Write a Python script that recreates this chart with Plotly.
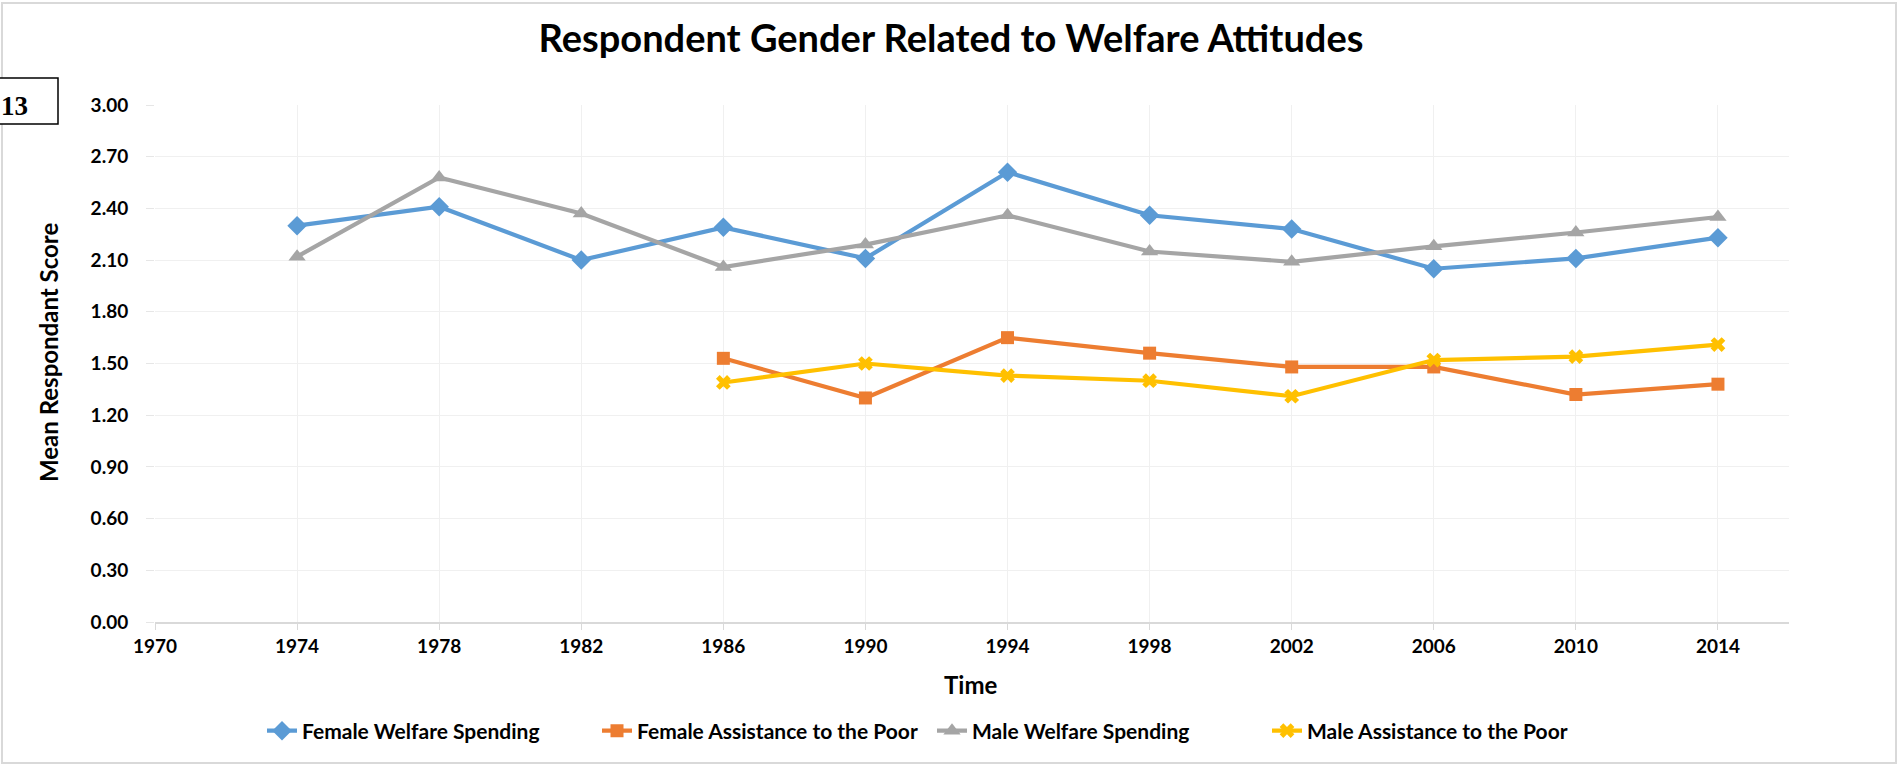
import plotly.graph_objects as go

# Survey years and mean scores per group
years_all = [1974, 1978, 1982, 1986, 1990, 1994, 1998, 2002, 2006, 2010, 2014]
years_poor = [1986, 1990, 1994, 1998, 2002, 2006, 2010, 2014]

female_welfare = [2.30, 2.41, 2.10, 2.29, 2.11, 2.61, 2.36, 2.28, 2.05, 2.11, 2.23]
male_welfare = [2.12, 2.58, 2.37, 2.06, 2.19, 2.36, 2.15, 2.09, 2.18, 2.26, 2.35]
female_poor = [1.53, 1.30, 1.65, 1.56, 1.48, 1.48, 1.32, 1.38]
male_poor = [1.39, 1.50, 1.43, 1.40, 1.31, 1.52, 1.54, 1.61]

x_ticks = list(range(1970, 2015, 4))
y_ticks = [0.0, 0.3, 0.6, 0.9, 1.2, 1.5, 1.8, 2.1, 2.4, 2.7, 3.0]

FONT = "Lato"
W, H = 1902, 768
ML, MR, MT, MB = 155, 113, 105, 146
PW, PH = W - ML - MR, H - MT - MB


def px(x):
    return (x - ML) / PW


def py(y):
    return (H - MB - y) / PH


fig = go.Figure()

series = [
    ("Female Welfare Spending", years_all, female_welfare, "#5B9BD5", "diamond", 15),
    ("Female Assistance to the Poor", years_poor, female_poor, "#ED7D31", "square", 13),
    ("Male Welfare Spending", years_all, male_welfare, "#A5A5A5", "triangle-up", 15),
    ("Male Assistance to the Poor", years_poor, male_poor, "#FFC000", "x", 13),
]
for name, xs, ys, color, symbol, size in series:
    fig.add_trace(go.Scatter(
        x=xs, y=ys, name=f"<b>{name}</b>", mode="lines+markers",
        line=dict(color=color, width=4.2),
        marker=dict(symbol=symbol, size=size, color=color),
    ))

fig.update_layout(
    width=W, height=H,
    margin=dict(l=ML, r=MR, t=MT, b=MB),
    paper_bgcolor="white", plot_bgcolor="white",
    font=dict(family=FONT, color="#262626"),
    title=dict(
        text="<b>Respondent Gender Related to Welfare Attitudes</b>",
        x=0.5, xref="container", xanchor="center",
        y=1 - 39 / H, yref="container", yanchor="middle",
        font=dict(family=FONT, size=38, color="#000000"),
    ),
    xaxis=dict(
        range=[1970, 2016], tickvals=x_ticks,
        ticktext=[f"<b>{t}</b>" for t in x_ticks],
        tickfont=dict(family=FONT, size=19, color="#000000"),
        showgrid=True, gridcolor="#f0f0f0", gridwidth=1,
        showline=True, linecolor="#d9d9d9", linewidth=1.5,
        ticks="outside", ticklen=6, tickcolor="#d9d9d9",
        zeroline=False,
    ),
    yaxis=dict(
        range=[0, 3], tickvals=y_ticks,
        ticktext=[f"<b>{t:.2f}</b>" for t in y_ticks],
        tickfont=dict(family=FONT, size=19, color="#000000"),
        showgrid=True, gridcolor="#f0f0f0", gridwidth=1,
        showline=False, ticks="outside", ticklen=8, tickcolor="#e6e6e6",
        ticklabelstandoff=14,
        zeroline=False,
    ),
    legend=dict(
        orientation="h", x=px(262), xanchor="left",
        y=py(731), yanchor="middle",
        font=dict(family=FONT, size=21, color="#000000"),
        itemwidth=30, entrywidth=290, entrywidthmode="pixels",
        bgcolor="rgba(0,0,0,0)",
    ),
    showlegend=True,
)

# axis titles
fig.add_annotation(
    text="<b>Time</b>", xref="paper", yref="paper",
    x=px(970), y=py(684), xanchor="center", yanchor="middle",
    showarrow=False, font=dict(family=FONT, size=24, color="#000000"),
)
fig.add_annotation(
    text="<b>Mean Respondant Score</b>", xref="paper", yref="paper",
    x=px(48), y=py(353), xanchor="center", yanchor="middle", textangle=-90,
    showarrow=False, font=dict(family=FONT, size=24, color="#000000"),
)

# outer chart frame
fig.add_shape(
    type="rect", xref="paper", yref="paper",
    x0=px(2), x1=px(1896), y0=py(763), y1=py(3),
    line=dict(color="#d9d9d9", width=2), fillcolor="rgba(0,0,0,0)",
)

# boxed page label at the left edge
fig.add_shape(
    type="rect", xref="paper", yref="paper",
    x0=px(-2), x1=px(58), y0=py(124), y1=py(78),
    line=dict(color="#000000", width=1.5), fillcolor="white",
)
fig.add_annotation(
    text="<b>13</b>", xref="paper", yref="paper",
    x=px(30), y=py(106), xanchor="right", yanchor="middle",
    showarrow=False, font=dict(family="Liberation Serif", size=27, color="#000000"),
)

fig.write_html("out.html")
